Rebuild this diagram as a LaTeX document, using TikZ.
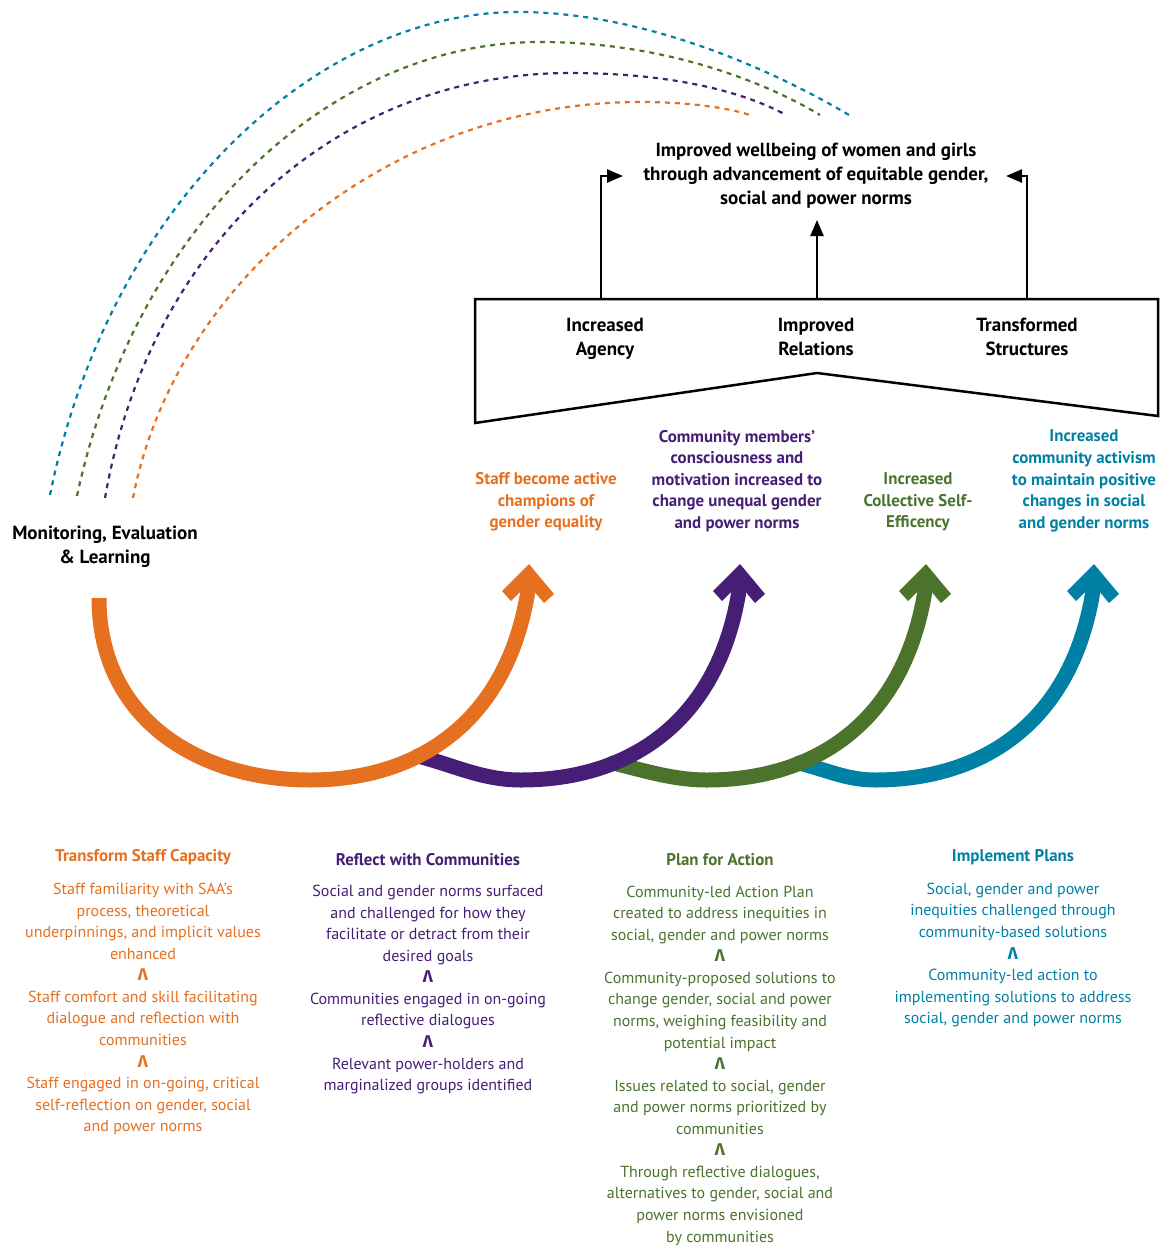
\documentclass[tikz,border=0pt]{standalone}
\usepackage{fontspec}
\setmainfont{PT Sans}
\newfontfamily\grk{Fira Sans}
\usetikzlibrary{arrows.meta}
\definecolor{cor}{HTML}{E57020}
\definecolor{cpu}{HTML}{461E76}
\definecolor{cgr}{HTML}{4B732C}
\definecolor{cte}{HTML}{0080A4}
\newcommand\lam{{\grk\bfseries\fontsize{17}{21.57}\selectfont Λ}}
\newcommand\chevron[2]{\fill[#1] (#2) -- ++(25,30) -- ++(-10,9) -- ++(-16,-19) -- ++(-17,17) -- ++(-9,-10) -- cycle;}
\tikzset{
  dasharc/.style={line width=2.2pt, dash pattern=on 5pt off 5pt},
  band/.style={line width=15pt},
  headtxt/.style={font=\bfseries\fontsize{19}{24}\selectfont, align=center, inner sep=0pt},
  labtxt/.style={font=\bfseries\fontsize{16.9}{21.6}\selectfont, align=center, inner sep=0pt},
  coltxt/.style={font=\fontsize{16}{21.57}\selectfont, align=center, inner sep=0pt},
  colhead/.style={font=\bfseries\fontsize{16.9}{20}\selectfont, inner sep=0pt},
  frame/.style={line width=2.5pt, line join=miter},
  uparrow/.style={line width=2.5pt, -{Triangle[length=16pt,width=13pt]}},
}
\begin{document}
\begin{tikzpicture}[x=1pt,y=-1pt]
\useasboundingbox (0,0) rectangle (1173,1245);

% dashed feedback arcs
\draw[dasharc, cte] (50,495) .. controls (110,200) and (320,12) .. (518,12)
                    .. controls (655,12) and (790,80) .. (849,115);
\draw[dasharc, cgr] (77,496) .. controls (135,225) and (330,42) .. (540,42)
                    .. controls (670,42) and (770,85) .. (820,115);
\draw[dasharc, cpu] (105,498) .. controls (150,240) and (340,73) .. (570,73)
                    .. controls (680,73) and (750,95) .. (786,115);
\draw[dasharc, cor] (133,498) .. controls (175,280) and (390,102) .. (640,102)
                    .. controls (690,102) and (730,108) .. (753,116);

% coordinates of the thick arrows
\coordinate (oS) at (99,598);  \coordinate (oB) at (310,780);
\coordinate (oE) at (529,584); \coordinate (oT) at (529,564);
\coordinate (pS) at (418,756); \coordinate (pB) at (521,780);
\coordinate (pE) at (740,584); \coordinate (pT) at (740,564);
\coordinate (gS) at (613,763); \coordinate (gB) at (707,780);
\coordinate (gE) at (926,584); \coordinate (gT) at (926,564);
\coordinate (tS) at (799,763); \coordinate (tB) at (875,780);
\coordinate (tE) at (1094,584); \coordinate (tT) at (1094,564);

\draw[band, cte, line cap=round] (tS) .. controls +(28,7) and +(-28,0) .. (tB)
      .. controls +(110,0) and +(-19,136) .. (tE);
\chevron{cte}{tT}
\draw[band, cgr, line cap=round] (gS) .. controls +(33,8) and +(-33,0) .. (gB)
      .. controls +(110,0) and +(-19,136) .. (gE);
\chevron{cgr}{gT}
\draw[band, cpu, line cap=round] (pS) .. controls +(38,10) and +(-38,0) .. (pB)
      .. controls +(110,0) and +(-19,136) .. (pE);
\chevron{cpu}{pT}
\draw[band, cor] (oS) .. controls +(0,122) and +(-110,0) .. (oB)
      .. controls +(110,0) and +(-19,136) .. (oE);
\chevron{cor}{oT}

% outcome box
\coordinate (b1) at (475,299); \coordinate (b2) at (1158,299);
\coordinate (b3) at (1158,416); \coordinate (b4) at (817,373);
\coordinate (b5) at (475,423);
\draw[frame] (b1) -- (b2) -- (b3) -- (b4) -- (b5) -- cycle;

\node[headtxt] (goal) at (816,176) {Improved wellbeing of women and girls\\through advancement of equitable gender,\\social and power norms};
\node[headtxt] (agency) at (605,338.5) {Increased\\Agency};
\node[headtxt] (rel) at (816,337) {Improved\\Relations};
\node[headtxt] (struct) at (1027,337) {Transformed\\Structures};

\coordinate (a1) at (601,299); \coordinate (a1e) at (623,176);
\coordinate (a2) at (817,299); \coordinate (a2e) at (817,220);
\coordinate (a3) at (1027,299); \coordinate (a3e) at (1006,176);
\draw[uparrow] (a1) |- (a1e);
\draw[uparrow] (a2) -- (a2e);
\draw[uparrow] (a3) |- (a3e);

% intermediate outcomes
\node[labtxt, text=cor] (o1) at (546,502) {Staff become active\\champions of\\gender equality};
\node[labtxt, text=cpu] (o2) at (737,481) {Community members’\\consciousness and\\motivation increased to\\change unequal gender\\and power norms};
\node[labtxt, text=cgr] (o3) at (918,502) {Increased\\Collective Self-\\Efficency};
\node[labtxt, text=cte] (o4) at (1084,481) {Increased\\community activism\\to maintain positive\\changes in social\\and gender norms};

\node[headtxt] (mel) at (105,547) {Monitoring, Evaluation\\\& Learning};

% bottom columns
\node[colhead, text=cor] (h1) at (143,857) {Transform Staff Capacity};
\node[colhead, text=cpu] (h2) at (428,860) {Reflect with Communities};
\node[colhead, text=cgr] (h3) at (720,860) {Plan for Action};
\node[colhead, text=cte] (h4) at (1013,857) {Implement Plans};

\node[coltxt, text=cor] (c1) at (143,1009) {Staff familiarity with SAA’s\\process, theoretical\\underpinnings, and implicit values\\enhanced\\\lam\\Staff comfort and skill facilitating\\dialogue and reflection with\\communities\\\lam\\Staff engaged in on-going, critical\\self-reflection on gender, social\\and power norms};
\node[coltxt, text=cpu] (c2) at (428,989.5) {Social and gender norms surfaced\\and challenged for how they\\facilitate or detract from their\\desired goals\\\lam\\Communities engaged in on-going\\reflective dialogues\\\lam\\Relevant power-holders and\\marginalized groups identified};
\node[coltxt, text=cgr] (c3) at (720,1065.5) {Community-led Action Plan\\created to address inequities in\\social, gender and power norms\\\lam\\Community-proposed solutions to\\change gender, social and power\\norms, weighing feasibility and\\potential impact\\\lam\\Issues related to social, gender\\and power norms prioritized by\\communities\\\lam\\Through reflective dialogues,\\alternatives to gender, social and\\power norms envisioned\\by communities};
\node[coltxt, text=cte] (c4) at (1013,955) {Social, gender and power\\inequities challenged through\\community-based solutions\\\lam\\Community-led action to\\implementing solutions to address\\social, gender and power norms};
\end{tikzpicture}
\end{document}
